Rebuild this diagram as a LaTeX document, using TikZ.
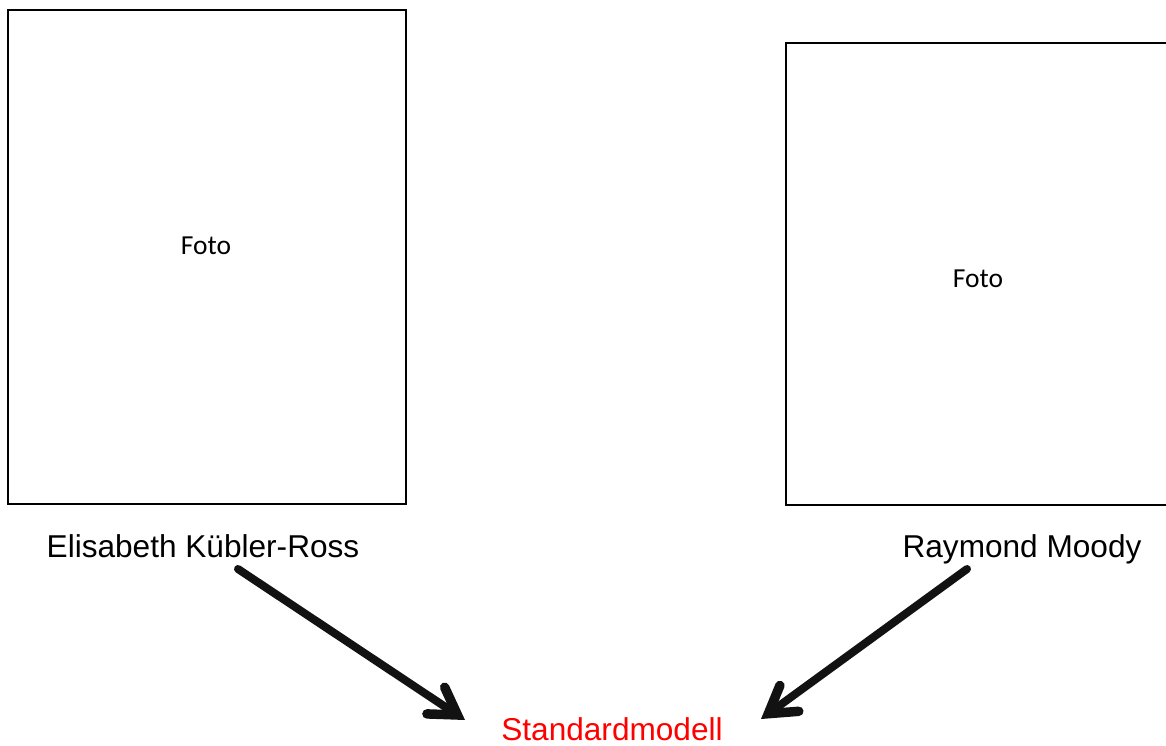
\documentclass[tikz,border=0pt]{standalone}
\usepackage{fontspec}
\setmainfont{Liberation Sans}
\newfontfamily\calibri{Carlito}
\usetikzlibrary{arrows.meta}
\begin{document}
\begin{tikzpicture}[x=1pt,y=-1pt,
  photobox/.style={draw=black, line width=1.6pt},
  fototext/.style={font=\calibri\fontsize{27.5}{32}\selectfont, anchor=base, inner sep=0pt},
  nametext/.style={font=\fontsize{31.6}{38}\selectfont, anchor=base, inner sep=0pt},
  bigarrow/.style={draw=black!93, line width=8pt, line cap=round,
    -{Straight Barb[length=26pt, width=32pt, line width=9.5pt, line cap=round, line join=miter]}}]
\useasboundingbox (0,0) rectangle (1166,746);
\fill[white] (0,0) rectangle (1166,746);
\draw[photobox] (8,10) rectangle (406,504);
\draw[photobox] (786,43) rectangle (1180,505);
\node[fototext] (foto1) at (206,254) {Foto};
\node[fototext] (foto2) at (978,287) {Foto};
\node[nametext] (ekr) at (203,557) {Elisabeth Kübler-Ross};
\node[nametext] (rm) at (1022,557) {Raymond Moody};
\node[nametext, text=red] (std) at (612,740) {Standardmodell};
\coordinate (s1) at (238,569);
\coordinate (e1) at (465,720);
\coordinate (s2) at (967,569);
\coordinate (e2) at (761,719);
\draw[bigarrow] (s1) -- (e1);
\draw[bigarrow] (s2) -- (e2);
\end{tikzpicture}
\end{document}
